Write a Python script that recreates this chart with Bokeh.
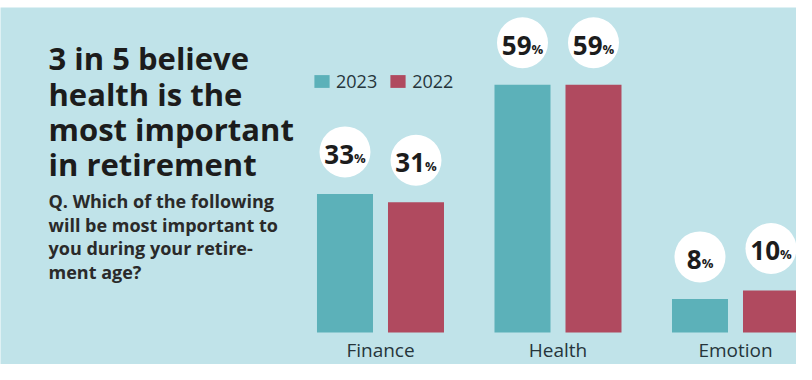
import numpy as np
from bokeh.plotting import figure
from bokeh.models import Range1d, Label, ColumnDataSource
from bokeh.core.properties import value
from bokeh.embed import file_html
from bokeh.resources import INLINE

# ---- data ----
categories = ["Finance", "Health", "Emotion"]
years = ["2023", "2022"]
share_2023 = [33, 59, 8]
share_2022 = [31, 59, 10]

title_lines = ["3 in 5 believe", "health is the", "most important", "in retirement"]
question_lines = ["Q. Which of the following", "will be most important to",
                  "you during your retire-", "ment age?"]

# ---- style ----
BG = "#c0e3e9"
TEAL = "#5cb1b9"
RED = "#b04a5f"
DARK = "#1c1c1c"
AXIS_TXT = "#26353b"
FONT = "Open Sans"

BAR_OFF = 0.2
BAR_W = 0.3155
BUBBLE_UP = 10  # data units above bar top

p = figure(width=796, height=364,
           x_range=Range1d(-2.1408, 2.3437), y_range=Range1d(-7.619, 77.38),
           output_backend="svg", toolbar_location=None,
           x_axis_location=None, y_axis_location=None,
           min_border_left=0, min_border_right=0, min_border_top=7, min_border_bottom=0,
           background_fill_color=BG, border_fill_color="white", outline_line_color=None)
p.xgrid.visible = False
p.ygrid.visible = False

idx = np.arange(len(categories))
series = [(years[0], share_2023, TEAL, -BAR_OFF), (years[1], share_2022, RED, BAR_OFF)]

for yr, vals, col, off in series:
    vals = np.array(vals)
    digits = np.array([len(str(v)) for v in vals])
    src = ColumnDataSource(dict(
        x=idx + off,
        top=vals,
        by=vals + BUBBLE_UP,
        num=[str(v) for v in vals],
        pct=["%"] * len(vals),
        xoff=(digits * 14.9 - 11.6) / 2.0,
    ))
    p.vbar(x="x", top="top", width=BAR_W, bottom=0, source=src,
           fill_color=col, line_color=None, legend_label=yr)
    p.scatter(x="x", y="by", size=51, marker="circle", source=src,
              fill_color="white", line_color=None)
    p.text(x="x", y="by", text="num", source=src, x_offset="xoff", y_offset=2.5,
           text_align="right", text_baseline="middle",
           text_font=value(FONT), text_font_style="bold", text_font_size="26px",
           text_color=DARK)
    p.text(x="x", y="by", text="pct", source=src, x_offset="xoff", y_offset=6,
           text_align="left", text_baseline="middle",
           text_font=value(FONT), text_font_style="bold", text_font_size="13px",
           text_color=DARK)

# category names under the groups
cat_src = ColumnDataSource(dict(x=idx, y=np.zeros(len(idx)), name=categories))
p.text(x="x", y="y", text="name", source=cat_src, y_offset=18,
       text_align="center", text_baseline="middle",
       text_font=value(FONT), text_font_size="19px", text_color=AXIS_TXT)

# legend
lg = p.legend[0]
lg.orientation = "horizontal"
lg.location = (312, 271)
lg.glyph_width = 19
lg.glyph_height = 16
lg.label_height = 16
lg.label_standoff = 5
lg.spacing = 11
lg.padding = 0
lg.margin = 0
lg.background_fill_alpha = 0
lg.border_line_color = None
lg.label_text_font = FONT
lg.label_text_font_size = "18px"
lg.label_text_color = AXIS_TXT

# title and question (screen units: from frame left / frame bottom)
for i, t in enumerate(title_lines):
    p.add_layout(Label(x=48, y=306.2 - i * 35.2, x_units="screen", y_units="screen",
                       text=t, text_font=FONT, text_font_style="bold",
                       text_font_size="31px", text_color=DARK,
                       text_baseline="middle"))
for i, t in enumerate(question_lines):
    p.add_layout(Label(x=48, y=163.5 - i * 23.7, x_units="screen", y_units="screen",
                       text=t, text_font=FONT, text_font_style="bold",
                       text_font_size="18px", text_color="#2a2a2a",
                       text_baseline="middle"))

open("out.html", "w").write(file_html(p, INLINE))
